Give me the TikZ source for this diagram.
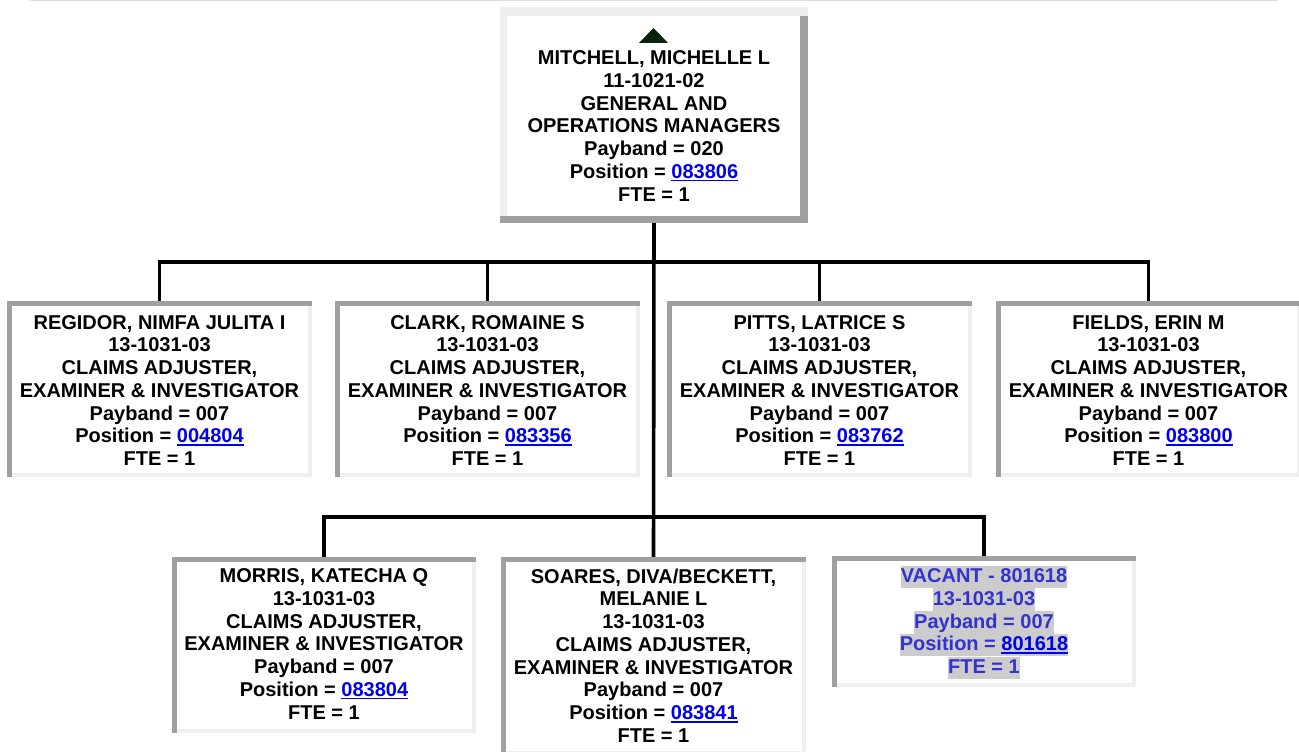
\documentclass[tikz,border=0pt]{standalone}
\usepackage{fontspec}
\setmainfont{Liberation Sans}
\usetikzlibrary{calc}
\definecolor{darkb}{RGB}{160,160,160}
\definecolor{lightb}{RGB}{239,239,239}
\definecolor{linkblue}{RGB}{0,0,238}
\definecolor{vacblue}{RGB}{51,51,204}
\definecolor{hlgray}{RGB}{204,204,204}
\definecolor{topline}{RGB}{221,221,221}
\definecolor{arrowgreen}{RGB}{8,36,8}
\newcommand\lnk[1]{{\color{linkblue}\setbox0\hbox{#1}\rlap{\rule[-3pt]{\wd0}{1.8pt}}\box0}}
\tikzset{
  childbox/.style={minimum width=305pt, minimum height=176pt, inner sep=0pt, fill=white,
    path picture={
      \fill[darkb] (path picture bounding box.north west) rectangle ([yshift=-4.5pt]path picture bounding box.north east);
      \fill[darkb] (path picture bounding box.north west) rectangle ([xshift=4.5pt]path picture bounding box.south west);
      \fill[lightb] ([xshift=-4.5pt,yshift=-4.5pt]path picture bounding box.north east) rectangle (path picture bounding box.south east);
      \fill[lightb] ([xshift=4.5pt,yshift=4.5pt]path picture bounding box.south west) rectangle (path picture bounding box.south east);
    }},
  topboxstyle/.style={minimum width=308pt, minimum height=216pt, inner sep=0pt, fill=lightb,
    path picture={
      \fill[darkb] ([xshift=-8pt,yshift=-9pt]path picture bounding box.north east) rectangle (path picture bounding box.south east);
      \fill[darkb] (path picture bounding box.south west) rectangle ([yshift=7pt]path picture bounding box.south east);
      \fill[white] ([xshift=7pt,yshift=-9pt]path picture bounding box.north west) rectangle ([xshift=-8pt,yshift=7pt]path picture bounding box.south east);
    }},
  txt/.style={align=center, inner sep=0pt, font=\bfseries\fontsize{20}{22.75}\selectfont},
  vline/.style={inner sep=0pt, fill=hlgray, text=vacblue, text height=17.2pt, text depth=5.5pt, anchor=base,
    font=\bfseries\fontsize{20}{22.75}\selectfont},
  conn/.style={line width=3.6pt, black}
}
\begin{document}
\begin{tikzpicture}[x=1pt,y=1pt]
\useasboundingbox (0,0) rectangle (1299,-752);
\fill[white] (0,0) rectangle (1299,-752);
\draw[topline, line width=1.5pt] (29,-0.75) -- (1278,-0.75);

% boxes
\node[topboxstyle] (topbox) at (654,-115) {};
\node[childbox] (regidor) at (159.5,-389) {};
\node[childbox] (clark) at (487.5,-389) {};
\node[childbox] (pitts) at (819.5,-389) {};
\node[childbox] (fields) at (1148.5,-389) {};
\node[childbox, minimum width=304pt] (morris) at (324,-645) {};
\node[childbox, minimum height=198pt] (soares) at (653.5,-656) {};
\node[childbox, minimum width=304pt, minimum height=131pt] (vacant) at (984,-621.5) {};

% connectors
\coordinate (b1) at (654,-262);
\coordinate (b2) at (654,-517);
\draw[conn] (topbox.south) -- (soares.north);
\draw[conn] (regidor.north) |- (b1) -| (fields.north);
\draw[conn] (clark.north) -- (clark.north |- b1);
\draw[conn] (pitts.north) -- (pitts.north |- b1);
\draw[conn] (morris.north) |- (b2) -| (vacant.north);

% top
\fill[arrowgreen] (639,-43) -- (653.5,-28) -- (668,-43) -- cycle;
\node[txt] (toptext) at (654,-126) {MITCHELL, MICHELLE L\\11-1021-02\\GENERAL AND\\OPERATIONS MANAGERS\\Payband = 020\\Position = \lnk{083806}\\FTE = 1};

\node[txt] (regidortext) at (159.5,-390.5) {REGIDOR, NIMFA JULITA I\\13-1031-03\\CLAIMS ADJUSTER,\\EXAMINER \& INVESTIGATOR\\Payband = 007\\Position = \lnk{004804}\\FTE = 1};
\node[txt] (clarktext) at (487.5,-390.5) {CLARK, ROMAINE S\\13-1031-03\\CLAIMS ADJUSTER,\\EXAMINER \& INVESTIGATOR\\Payband = 007\\Position = \lnk{083356}\\FTE = 1};
\node[txt] (pittstext) at (819.5,-390.5) {PITTS, LATRICE S\\13-1031-03\\CLAIMS ADJUSTER,\\EXAMINER \& INVESTIGATOR\\Payband = 007\\Position = \lnk{083762}\\FTE = 1};
\node[txt] (fieldstext) at (1148.5,-390.5) {FIELDS, ERIN M\\13-1031-03\\CLAIMS ADJUSTER,\\EXAMINER \& INVESTIGATOR\\Payband = 007\\Position = \lnk{083800}\\FTE = 1};

\node[txt] (morristext) at (324,-644) {MORRIS, KATECHA Q\\13-1031-03\\CLAIMS ADJUSTER,\\EXAMINER \& INVESTIGATOR\\Payband = 007\\Position = \lnk{083804}\\FTE = 1};
\node[txt] (soarestext) at (653.5,-655.5) {SOARES, DIVA/BECKETT,\\MELANIE L\\13-1031-03\\CLAIMS ADJUSTER,\\EXAMINER \& INVESTIGATOR\\Payband = 007\\Position = \lnk{083841}\\FTE = 1};

\node[vline] (v1) at (984,-582.7) {VACANT - 801618};
\node[vline] (v2) at (984,-605.45) {13-1031-03};
\node[vline] (v3) at (984,-628.2) {Payband = 007};
\node[vline] (v4) at (984,-650.95) {Position = \lnk{801618}};
\node[vline] (v5) at (984,-673.7) {FTE = 1};
\end{tikzpicture}
\end{document}
